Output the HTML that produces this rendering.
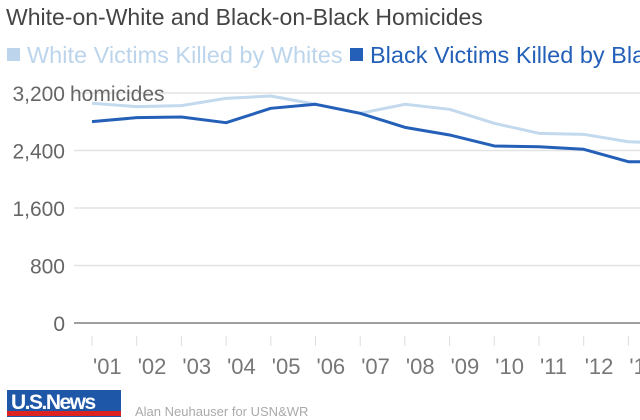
<!DOCTYPE html>
<html><head><meta charset="utf-8"><style>
body{margin:0;width:640px;height:420px;overflow:hidden;background:#fff;font-family:"Liberation Sans",sans-serif}
</style></head><body>
<svg width="640" height="420" style="position:absolute;left:0;top:0">
<text x="6" y="25" font-size="23" fill="#444">White-on-White and Black-on-Black Homicides</text>
<g>
<rect x="7" y="48" width="13" height="13" fill="#bcd5ec"/>
<text x="27" y="63" font-size="23.5" fill="#bcd5ec">White Victims Killed by Whites</text>
<rect x="350" y="48" width="13" height="13" fill="#2460b8"/>
<text x="370" y="63" font-size="23.5" fill="#2460b8">Black Victims Killed by Black</text>
</g>
<g id="grid"></g><g id="series"></g><g id="xl"></g>
<g>
<rect x="7" y="390" width="114" height="27" fill="#1f57a8"/>
<rect x="7" y="411" width="114" height="5" fill="#d22"/>
<text x="11" y="409" font-size="21" font-weight="bold" fill="#fff" letter-spacing="-1.5">U.S.News</text>
</g>
<text x="135" y="416" font-size="13" fill="#aaa">Alan Neuhauser for USN&amp;WR</text>
</svg>
<script>
const years=["'01","'02","'03","'04","'05","'06","'07","'08","'09","'10","'11","'12","'13","'14"];
const whiteVals=[3057,3010,3024,3126,3158,3043,2917,3043,2973,2778,2639,2625,2522,2500];
const blackVals=[2801,2857,2866,2787,2987,3043,2917,2722,2616,2463,2453,2417,2244,2245];
const yTicks=[0,800,1600,2400,3200];
const yTickLabels=["0","800","1,600","2,400","3,200"];
const NS="http://www.w3.org/2000/svg";
const y=v=>323-v*230/3200;
const x=i=>92+i*44.7;
function mk(t,a,p){const e=document.createElementNS(NS,t);for(const k in a)e.setAttribute(k,a[k]);p.appendChild(e);return e;}
const g=document.getElementById('grid');
yTicks.forEach((t,i)=>{
 const l=mk('line',{x1:74,x2:640,y1:y(t),y2:y(t),stroke:t===0?'#666':'#e3e3e3','stroke-width':t===0?1.3:1.5},g);
 
 
 const tx=mk('text',{x:65,y:y(t)+8,'font-size':21,fill:'#666','text-anchor':'end'},g);
 tx.textContent=yTickLabels[i];
 
 
});
const u=mk('text',{x:70,y:y(3200)+8,'font-size':21,fill:'#666'},g);
u.textContent='homicides';


const xl=document.getElementById('xl');
years.forEach((yr,i)=>{
 const tk=mk('line',{x1:x(i),x2:x(i),y1:336,y2:346,stroke:'#ddd','stroke-width':1},xl);
 
 
 const t=mk('text',{x:x(i)+1,y:374,'font-size':22,fill:'#777'},xl);
 t.textContent=yr;
 
 
});
const s=document.getElementById('series');
[[whiteVals,'#c3d9ee','white-line'],[blackVals,'#2460b8','black-line']].forEach(([vals,c,n])=>{
 const p=mk('polyline',{points:vals.map((v,i)=>x(i)+','+y(v)).join(' '),fill:'none',stroke:c,'stroke-width':3,'stroke-linejoin':'round'},s);
 
 
});
</script>
</body></html>
